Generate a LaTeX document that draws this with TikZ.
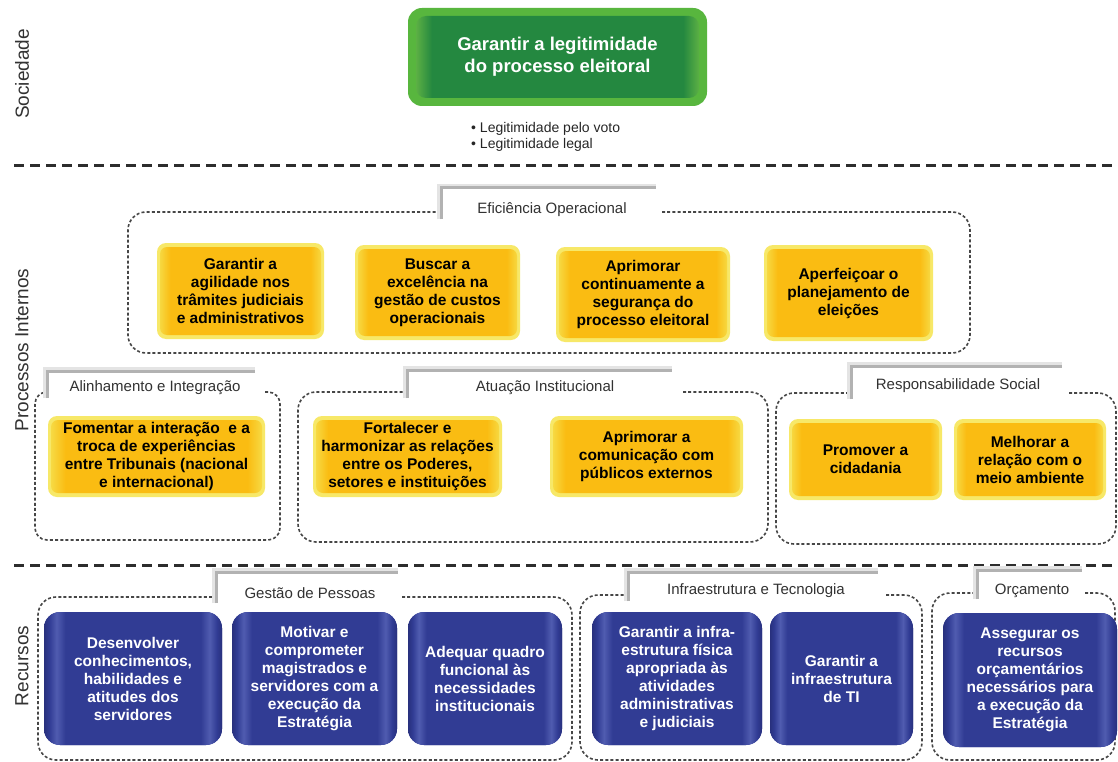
\documentclass[tikz,border=0pt]{standalone}
\usepackage{fontspec}
\setmainfont{Liberation Sans}
\definecolor{ycore}{RGB}{250,188,18}
\definecolor{yedge}{RGB}{246,224,78}
\definecolor{yglow}{RGB}{247,232,104}
\definecolor{bcore}{RGB}{49,60,148}
\definecolor{bband}{RGB}{80,92,176}
\definecolor{bedge}{RGB}{40,48,125}
\definecolor{gcore}{RGB}{36,136,64}
\definecolor{grim}{RGB}{88,182,62}
\definecolor{gband}{RGB}{120,196,70}
\definecolor{sepc}{RGB}{45,45,45}
\definecolor{grpc}{RGB}{70,70,70}
\definecolor{brkc}{RGB}{178,178,178}
\definecolor{brkl}{RGB}{228,228,228}
\definecolor{labc}{RGB}{50,50,50}
\pgfdeclarehorizontalshading{yshade}{100bp}{color(0bp)=(yedge); color(25bp)=(yedge); color(29bp)=(ycore); color(71bp)=(ycore); color(75bp)=(yedge); color(100bp)=(yedge)}
\pgfdeclarehorizontalshading{bshade}{100bp}{color(0bp)=(bedge); color(25bp)=(bedge); color(26.5bp)=(bcore); color(28.5bp)=(bband); color(31bp)=(bcore); color(69bp)=(bcore); color(71.5bp)=(bband); color(73.5bp)=(bcore); color(75bp)=(bedge); color(100bp)=(bedge)}
\pgfdeclarehorizontalshading{gshade}{100bp}{color(0bp)=(gband); color(25bp)=(gband); color(29bp)=(gcore); color(71bp)=(gcore); color(75bp)=(gband); color(100bp)=(gband)}
\tikzset{
  sepline/.style={draw=sepc, line width=3pt, dash pattern=on 10pt off 6pt},
  grp/.style={draw=grpc, line width=1.6pt, dash pattern=on 3pt off 2.2pt, rounded corners=18pt},
  brk/.style={draw=brkc, line width=3pt},
  brklight/.style={draw=brkl, line width=3pt},
  grplabel/.style={font=\fontsize{15}{18}\selectfont, text=labc, inner sep=0pt},
  rowlabel/.style={font=\fontsize{19}{22}\selectfont, text=labc, rotate=90, inner sep=0pt},
  bullet/.style={anchor=west, font=\fontsize{14}{16}\selectfont, text=black!85, inner sep=0pt},
  ybox/.style={rectangle, rounded corners=9pt, fill=yglow, inner sep=0pt, align=center, text=black,
    font=\fontsize{15.5}{18}\selectfont\bfseries,
    path picture={\shade[shading=yshade, rounded corners=7pt] ([shift={(3pt,4pt)}]path picture bounding box.south west) rectangle ([shift={(-3pt,-4pt)}]path picture bounding box.north east);}},
  bbox/.style={rectangle, rounded corners=16pt, fill=bcore, inner sep=0pt, align=center, text=white,
    font=\fontsize{15.5}{18}\selectfont\bfseries,
    path picture={\shade[shading=bshade] (path picture bounding box.south west) rectangle (path picture bounding box.north east);}},
  gbox/.style={rectangle, rounded corners=14pt, fill=grim, inner sep=0pt, align=center, text=white,
    font=\fontsize{18.5}{22}\selectfont\bfseries,
    path picture={\shade[shading=gshade, rounded corners=10pt] ([shift={(8pt,8pt)}]path picture bounding box.south west) rectangle ([shift={(-8pt,-8pt)}]path picture bounding box.north east);}}
}
\begin{document}
\begin{tikzpicture}[x=1pt,y=-1pt]
\useasboundingbox[fill=white] (0,0) rectangle (1118,762);
% row labels
\node[rowlabel] (lsoc) at (22,74) {Sociedade};
\node[rowlabel] (lpro) at (22,350) {Processos Internos};
\node[rowlabel] (lrec) at (22,666) {Recursos};
% separators
\coordinate (s1a) at (14,166); \coordinate (s1b) at (1112,166);
\coordinate (s2a) at (14,565); \coordinate (s2b) at (1112,565);
\draw[sepline] (s1a) -- (s1b);
\draw[sepline] (s2a) -- (s2b);
% society
\node[gbox, minimum width=299pt, minimum height=98pt] (goal) at (557.5,57) {Garantir a legitimidade\\do processo eleitoral};
\node[bullet] (b1) at (471,129) {• Legitimidade pelo voto};
\node[bullet] (b2) at (471,145) {• Legitimidade legal};
% ---- Eficiencia Operacional
\draw[grp] (662,212) -- (970,212) -- (970,353) -- (128,353) -- (128,212) -- (441,212);
\draw[brklight] (438.5,219) -- (438.5,185.5) -- (656,185.5);
\draw[brk] (441,219) -- (441,188) -- (656,188);
\node[grplabel] (gef) at (552,210) {Eficiência Operacional};
\node[ybox, minimum width=167pt, minimum height=96pt] (e1) at (240.5,291) {Garantir a\\agilidade nos\\trâmites judiciais\\e administrativos};
\node[ybox, minimum width=165pt, minimum height=95pt] (e2) at (437.5,292.5) {Buscar a\\excelência na\\gestão de custos\\operacionais};
\node[ybox, minimum width=174pt, minimum height=95pt] (e3) at (643,294.5) {Aprimorar\\continuamente a\\segurança do\\processo eleitoral};
\node[ybox, minimum width=169pt, minimum height=96pt] (e4) at (848.5,293) {Aperfeiçoar o\\planejamento de\\eleições};
% ---- Alinhamento e Integracao
\draw[grp, rounded corners=12pt] (265,392) -- (280,392) -- (280,540) -- (35,540) -- (35,392) -- (47,392);
\draw[brklight] (44.5,398) -- (44.5,368.5) -- (255,368.5);
\draw[brk] (47,398) -- (47,371) -- (255,371);
\node[grplabel] (gal) at (155,388) {Alinhamento e Integração};
\node[ybox, minimum width=217pt, minimum height=81pt] (a1) at (156.5,456.5) {Fomentar a interação \ e a\\troca de experiências\\entre Tribunais (nacional\\e internacional)};
% ---- Atuacao Institucional
\draw[grp] (683,392) -- (768,392) -- (768,542) -- (298,542) -- (298,392) -- (407,392);
\draw[brklight] (404.5,398) -- (404.5,367.5) -- (672,367.5);
\draw[brk] (407,398) -- (407,370) -- (672,370);
\node[grplabel] (gat) at (545,388) {Atuação Institucional};
\node[ybox, minimum width=189pt, minimum height=81pt] (i1) at (407.5,456.5) {Fortalecer e\\harmonizar as relações\\entre os Poderes,\\setores e instituições};
\node[ybox, minimum width=193pt, minimum height=81pt] (i2) at (646.5,456.5) {Aprimorar a\\comunicação com\\públicos externos};
% ---- Responsabilidade Social
\draw[grp] (1069,393) -- (1116,393) -- (1116,544) -- (776,544) -- (776,393) -- (851,393);
\draw[brklight] (848.5,399) -- (848.5,363.5) -- (1062,363.5);
\draw[brk] (851,399) -- (851,366) -- (1062,366);
\node[grplabel] (grs) at (958,386) {Responsabilidade Social};
\node[ybox, minimum width=153pt, minimum height=81pt] (r1) at (865.5,459.5) {Promover a\\cidadania};
\node[ybox, minimum width=152pt, minimum height=81pt] (r2) at (1030,459.5) {Melhorar a\\relação com o\\meio ambiente};
% ---- Gestao de Pessoas
\draw[grp] (402,597) -- (572,597) -- (572,760) -- (38,760) -- (38,597) -- (216,597);
\draw[brklight] (213.5,603) -- (213.5,569.5) -- (398,569.5);
\draw[brk] (216,603) -- (216,572) -- (398,572);
\node[grplabel] (ggp) at (310,593) {Gestão de Pessoas};
\node[bbox, minimum width=178pt, minimum height=133pt] (p1) at (133,678.5) {Desenvolver\\conhecimentos,\\habilidades e\\atitudes dos\\servidores};
\node[bbox, minimum width=165pt, minimum height=133pt] (p2) at (314.5,678.5) {Motivar e\\comprometer\\magistrados e\\servidores com a\\execução da\\Estratégia};
\node[bbox, minimum width=154pt, minimum height=133pt] (p3) at (485,678.5) {Adequar quadro\\funcional às\\necessidades\\institucionais};
% ---- Infraestrutura e Tecnologia
\draw[grp] (886,595) -- (922,595) -- (922,760) -- (580,760) -- (580,595) -- (628,595);
\draw[brklight] (625.5,601) -- (625.5,569.5) -- (878,569.5);
\draw[brk] (628,601) -- (628,572) -- (878,572);
\node[grplabel] (git) at (756,591) {Infraestrutura e Tecnologia};
\node[bbox, minimum width=170pt, minimum height=133pt] (t1) at (677,678.5) {Garantir a infra-\\estrutura física\\apropriada às\\atividades\\administrativas\\e judiciais};
\node[bbox, minimum width=143pt, minimum height=133pt] (t2) at (841.5,678.5) {Garantir a\\infraestrutura\\de TI};
% ---- Orcamento
\draw[grp] (1085,593) -- (1115,593) -- (1115,760) -- (932,760) -- (932,593) -- (977,593);
\draw[brklight] (974.5,599) -- (974.5,567.5) -- (1082,567.5);
\draw[brk] (977,599) -- (977,570) -- (1082,570);
\node[grplabel] (gor) at (1032,591) {Orçamento};
\node[bbox, minimum width=174pt, minimum height=134pt] (o1) at (1030,680) {Assegurar os\\recursos\\orçamentários\\necessários para\\a execução da\\Estratégia};
\end{tikzpicture}
\end{document}
